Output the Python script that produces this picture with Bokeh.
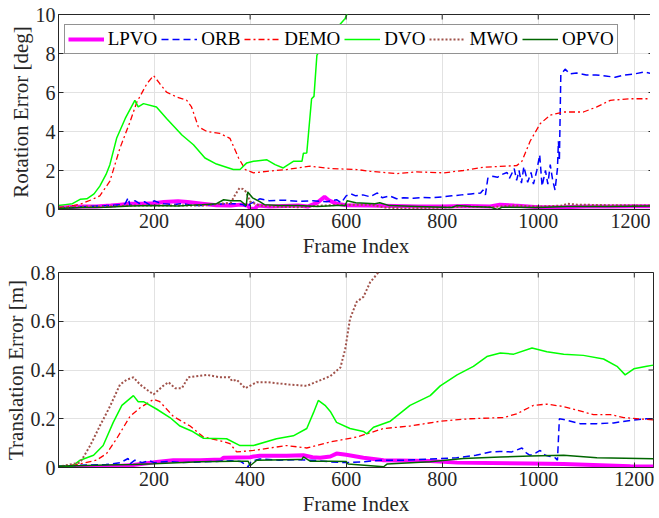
import math
from bokeh.plotting import figure
from bokeh.models import FixedTicker, Range1d, Legend, LegendItem
from bokeh.layouts import column
from bokeh.embed import file_html
from bokeh.resources import INLINE

# ---------------- data: rotation error [deg] ----------------
lpvo_rot_x = [0, 20, 50, 80, 110, 130, 150, 180, 200, 220, 250, 270, 300, 330, 360, 380, 395, 400, 410, 415, 440, 470, 500, 520, 540, 555, 565, 580, 600, 650, 700, 750, 800, 850, 900, 920, 950, 1000, 1050, 1100, 1150, 1200, 1240]
lpvo_rot_y = [0.1, 0.12, 0.15, 0.15, 0.2, 0.25, 0.3, 0.3, 0.32, 0.38, 0.42, 0.38, 0.3, 0.22, 0.2, 0.25, 0.2, 0.05, 0.02, 0.2, 0.15, 0.18, 0.2, 0.15, 0.35, 0.65, 0.45, 0.3, 0.22, 0.2, 0.18, 0.15, 0.15, 0.18, 0.15, 0.25, 0.2, 0.12, 0.12, 0.15, 0.15, 0.17, 0.17]

orb_rot_x = [0, 30, 60, 100, 130, 140, 146, 150, 160, 170, 180, 190, 200, 210, 220, 240, 260, 280, 300, 320, 350, 370, 385, 395, 400, 410, 420, 440, 470, 500, 530, 560, 580, 590, 600, 610, 620, 635, 650, 665, 675, 690, 705, 720, 740, 760, 780, 800, 820, 840, 860, 880, 885, 890, 895, 905, 915, 925, 935, 940, 950, 955, 960, 965, 970, 978, 985, 990, 997, 1003, 1008, 1015, 1020, 1025, 1030, 1035, 1040, 1042, 1044, 1047, 1056, 1066, 1080, 1100, 1120, 1140, 1160, 1180, 1200, 1220, 1240]
orb_rot_y = [0.05, 0.1, 0.15, 0.2, 0.25, 0.3, 0.6, 0.2, 0.45, 0.3, 0.4, 0.25, 0.45, 0.35, 0.3, 0.25, 0.3, 0.2, 0.2, 0.25, 0.3, 0.3, 0.25, 0.1, 0.3, 0.4, 0.55, 0.45, 0.48, 0.42, 0.45, 0.4, 0.5, 0.35, 0.7, 0.8, 0.7, 0.75, 0.65, 0.85, 0.6, 0.7, 0.55, 0.6, 0.58, 0.62, 0.6, 0.65, 0.7, 0.75, 0.8, 0.85, 1.0, 0.75, 1.6, 1.7, 1.65, 1.8, 1.9, 1.6, 2.1, 1.5, 2.0, 1.35, 2.2, 1.4, 1.9, 1.3, 2.0, 2.8, 1.2, 2.0, 1.3, 2.3, 1.5, 1.0, 2.1, 3.5, 2.5, 6.9, 7.2, 6.95, 7.0, 6.9, 6.9, 6.85, 6.78, 6.9, 6.95, 7.05, 6.95]

demo_rot_x = [0, 20, 46, 70, 87, 108, 129, 150, 164, 185, 199, 212, 226, 247, 268, 278, 292, 310, 337, 358, 376, 390, 407, 435, 476, 525, 567, 622, 650, 705, 747, 803, 844, 886, 955, 966, 983, 1004, 1025, 1053, 1094, 1122, 1150, 1192, 1240]
demo_rot_y = [0.1, 0.15, 0.27, 0.5, 0.7, 1.45, 3.15, 4.5, 5.5, 6.45, 6.87, 6.45, 6.02, 5.77, 5.6, 5.26, 4.25, 4.0, 3.9, 3.65, 2.64, 2.05, 1.88, 1.96, 2.05, 2.22, 2.1, 2.05, 1.96, 1.84, 1.93, 1.88, 2.0, 2.17, 2.25, 2.47, 3.5, 4.4, 4.84, 5.0, 5.0, 5.26, 5.6, 5.68, 5.68]

dvo_rot_x = [0, 15, 30, 46, 60, 75, 87, 100, 108, 122, 140, 160, 167, 178, 205, 226, 258, 282, 306, 330, 365, 379, 393, 407, 435, 452, 469, 490, 508, 511, 518, 528, 533, 539, 560, 580, 598, 610]
dvo_rot_y = [0.2, 0.25, 0.3, 0.52, 0.55, 0.8, 1.2, 1.8, 2.3, 3.65, 4.67, 5.6, 5.26, 5.43, 5.26, 4.67, 3.82, 3.32, 2.64, 2.33, 2.05, 2.05, 2.39, 2.47, 2.55, 2.3, 2.13, 2.47, 2.47, 2.89, 2.9, 5.68, 5.8, 7.9, 8.8, 9.3, 9.8, 10.5]

mwo_rot_x = [0, 50, 100, 150, 200, 250, 300, 340, 360, 370, 378, 385, 392, 400, 420, 450, 500, 550, 600, 650, 680, 720, 800, 850, 900, 950, 1000, 1050, 1060, 1080, 1150, 1240]
mwo_rot_y = [0.1, 0.15, 0.15, 0.2, 0.2, 0.2, 0.2, 0.3, 0.35, 0.8, 1.1, 1.05, 0.9, 0.4, 0.2, 0.15, 0.12, 0.2, 0.25, 0.25, 0.1, 0.05, 0.1, 0.15, 0.12, 0.2, 0.15, 0.2, 0.3, 0.25, 0.22, 0.2]

opvo_rot_x = [0, 50, 100, 150, 200, 250, 300, 330, 345, 360, 380, 392, 395, 405, 420, 430, 460, 500, 540, 580, 598, 602, 620, 660, 670, 690, 750, 820, 830, 860, 900, 915, 925, 1000, 1060, 1150, 1240]
opvo_rot_y = [0.05, 0.1, 0.12, 0.18, 0.2, 0.18, 0.25, 0.3, 0.5, 0.45, 0.45, 0.2, 0.9, 0.6, 0.4, 0.25, 0.2, 0.2, 0.15, 0.2, 0.2, 0.45, 0.35, 0.3, 0.35, 0.2, 0.15, 0.1, 0.2, 0.15, 0.12, 0.0, 0.12, 0.1, 0.15, 0.15, 0.18]

# ---------------- data: translation error [m] ----------------
lpvo_tr_x = [0, 50, 100, 157, 205, 240, 296, 340, 345, 400, 407, 420, 476, 511, 530, 546, 567, 580, 600, 636, 678, 775, 831, 983, 1053, 1192, 1240]
lpvo_tr_y = [0.0, 0.0, 0.003, 0.01, 0.023, 0.03, 0.03, 0.033, 0.04, 0.042, 0.045, 0.048, 0.048, 0.05, 0.042, 0.04, 0.045, 0.057, 0.052, 0.04, 0.03, 0.027, 0.02, 0.016, 0.014, 0.005, 0.004]

orb_tr_x = [0, 30, 60, 100, 130, 146, 150, 160, 175, 190, 200, 230, 260, 296, 330, 360, 380, 392, 396, 402, 420, 460, 500, 540, 567, 600, 636, 671, 720, 775, 830, 870, 900, 920, 945, 966, 975, 983, 995, 1004, 1015, 1025, 1035, 1040, 1044, 1053, 1087, 1122, 1157, 1192, 1226, 1240]
orb_tr_y = [0.005, 0.008, 0.01, 0.012, 0.02, 0.037, 0.015, 0.03, 0.02, 0.028, 0.02, 0.025, 0.02, 0.023, 0.025, 0.028, 0.025, 0.01, 0.003, 0.025, 0.035, 0.03, 0.032, 0.028, 0.023, 0.02, 0.023, 0.03, 0.03, 0.035, 0.04, 0.05, 0.064, 0.066, 0.064, 0.08, 0.06, 0.05, 0.06, 0.07, 0.05, 0.045, 0.04, 0.03, 0.2, 0.197, 0.18, 0.18, 0.183, 0.193, 0.2, 0.2]

demo_tr_x = [0, 46, 80, 101, 122, 150, 171, 199, 212, 240, 275, 303, 337, 358, 372, 407, 455, 476, 518, 567, 622, 678, 733, 796, 858, 928, 955, 990, 1018, 1053, 1115, 1150, 1178, 1240]
demo_tr_y = [0.0, 0.015, 0.03, 0.057, 0.118, 0.21, 0.245, 0.28, 0.27, 0.21, 0.17, 0.125, 0.11, 0.098, 0.064, 0.07, 0.084, 0.09, 0.08, 0.105, 0.125, 0.16, 0.17, 0.19, 0.2, 0.205, 0.22, 0.255, 0.26, 0.25, 0.217, 0.217, 0.205, 0.195]

dvo_tr_x = [0, 28, 46, 74, 94, 115, 133, 157, 167, 178, 205, 233, 254, 278, 303, 351, 379, 407, 455, 490, 518, 532, 542, 556, 567, 580, 608, 636, 643, 657, 692, 733, 775, 796, 831, 865, 893, 921, 949, 987, 1018, 1053, 1094, 1136, 1164, 1181, 1199, 1226, 1240]
dvo_tr_y = [0.005, 0.003, 0.03, 0.05, 0.09, 0.185, 0.255, 0.295, 0.27, 0.27, 0.24, 0.205, 0.17, 0.15, 0.12, 0.118, 0.09, 0.09, 0.118, 0.13, 0.16, 0.225, 0.275, 0.255, 0.23, 0.185, 0.16, 0.148, 0.138, 0.165, 0.19, 0.255, 0.295, 0.335, 0.38, 0.415, 0.455, 0.47, 0.465, 0.49, 0.475, 0.465, 0.46, 0.445, 0.415, 0.38, 0.405, 0.415, 0.42]

mwo_tr_x = [0, 46, 67, 87, 108, 129, 143, 157, 171, 188, 199, 219, 230, 244, 258, 271, 310, 337, 358, 362, 372, 390, 414, 435, 483, 518, 567, 588, 598, 608, 622, 636, 650, 667, 690]
mwo_tr_y = [0.003, 0.02, 0.09, 0.17, 0.25, 0.34, 0.36, 0.37, 0.34, 0.315, 0.30, 0.335, 0.35, 0.325, 0.325, 0.37, 0.38, 0.37, 0.37, 0.355, 0.36, 0.325, 0.35, 0.35, 0.34, 0.335, 0.375, 0.41, 0.485, 0.61, 0.68, 0.70, 0.76, 0.80, 0.87]

opvo_tr_x = [0, 100, 157, 199, 296, 365, 396, 400, 414, 500, 508, 511, 525, 567, 600, 604, 678, 685, 775, 844, 921, 983, 1053, 1122, 1240]
opvo_tr_y = [0.005, 0.01, 0.012, 0.015, 0.024, 0.026, 0.026, 0.007, 0.03, 0.033, 0.033, 0.044, 0.026, 0.026, 0.025, 0.014, 0.003, 0.014, 0.024, 0.037, 0.043, 0.047, 0.05, 0.04, 0.036]

x_ticks = [200, 400, 600, 800, 1000, 1200]
rot_ticks = [0, 2, 4, 6, 8, 10]
tr_ticks = [0, 0.2, 0.4, 0.6, 0.8]
tr_tick_labels = {0: "0", 0.2: "0.2", 0.4: "0.4", 0.6: "0.6", 0.8: "0.8"}

names = ["LPVO", "ORB", "DEMO", "DVO", "MWO", "OPVO"]
styles = {
    "LPVO": dict(line_color="#FF00FF", line_width=4),
    "ORB": dict(line_color="#0000FF", line_width=1.5, line_dash="7 4"),
    "DEMO": dict(line_color="#FF0000", line_width=1.3, line_dash="6 3 2 3"),
    "DVO": dict(line_color="#00FF00", line_width=1.5),
    "MWO": dict(line_color="#A0524A", line_width=2, line_dash="2 2"),
    "OPVO": dict(line_color="#006600", line_width=1.5),
}

FONT = "Liberation Serif"
TXT = "#262626"
X_MAX = 1240


def make_fig(ylabel, ymax, yticks, overrides, data, legend, border_top, border_bottom):
    p = figure(frame_width=595, frame_height=195, output_backend="svg", toolbar_location=None,
               x_range=Range1d(1, X_MAX), y_range=Range1d(0, ymax),
               min_border_left=50, min_border_right=2, min_border_top=border_top,
               min_border_bottom=border_bottom)
    p.background_fill_color = "white"
    p.border_fill_color = "white"
    p.outline_line_color = TXT
    p.outline_line_width = 1
    p.xgrid.ticker = FixedTicker(ticks=x_ticks)
    p.ygrid.ticker = FixedTicker(ticks=yticks)
    for g in (p.xgrid, p.ygrid):
        g.grid_line_color = "#e2e2e2"
        g.grid_line_width = 1
    renderers = {}
    for n in names:
        xs, ys = data[n]
        renderers[n] = p.line(xs, ys, **styles[n])
    # mirrored inward ticks on top and right edges (half of each dash is clipped by the frame)
    p.scatter(x=x_ticks, y=[ymax] * len(x_ticks), marker="dash", size=10,
              angle=math.pi / 2, line_color=TXT, line_width=1)
    p.scatter(x=[X_MAX] * len(yticks), y=yticks, marker="dash", size=10,
              line_color=TXT, line_width=1)
    xa = p.xaxis[0]
    ya = p.yaxis[0]
    xa.ticker = FixedTicker(ticks=x_ticks)
    ya.ticker = FixedTicker(ticks=yticks)
    if overrides:
        ya.major_label_overrides = overrides
    xa.axis_label = "Frame Index"
    ya.axis_label = ylabel
    for ax in (xa, ya):
        ax.major_tick_in = 5
        ax.major_tick_out = 0
        ax.minor_tick_line_color = None
        ax.axis_line_color = TXT
        ax.major_tick_line_color = TXT
        ax.major_label_text_font = FONT
        ax.major_label_text_font_size = "20px"
        ax.major_label_text_color = TXT
        ax.axis_label_text_font = FONT
        ax.axis_label_text_font_size = "21px"
        ax.axis_label_text_font_style = "normal"
        ax.axis_label_text_color = TXT
    xa.major_label_standoff = 4
    xa.axis_label_standoff = 3
    ya.major_label_standoff = 3
    ya.axis_label_standoff = 0
    if legend:
        items = [LegendItem(label=n, renderers=[renderers[n]]) for n in names]
        lg = Legend(items=items, orientation="horizontal", location="top_left")
        lg.margin = 10
        lg.padding = 3
        lg.spacing = 4
        lg.glyph_width = 36
        lg.glyph_height = 18
        lg.label_standoff = 4
        lg.label_text_font = FONT
        lg.label_text_font_size = "19px"
        lg.label_text_color = "black"
        lg.border_line_color = TXT
        lg.border_line_width = 1
        lg.background_fill_alpha = 1
        p.add_layout(lg, "center")
    return p


rot_data = {
    "LPVO": (lpvo_rot_x, lpvo_rot_y), "ORB": (orb_rot_x, orb_rot_y),
    "DEMO": (demo_rot_x, demo_rot_y), "DVO": (dvo_rot_x, dvo_rot_y),
    "MWO": (mwo_rot_x, mwo_rot_y), "OPVO": (opvo_rot_x, opvo_rot_y),
}
tr_data = {
    "LPVO": (lpvo_tr_x, lpvo_tr_y), "ORB": (orb_tr_x, orb_tr_y),
    "DEMO": (demo_tr_x, demo_tr_y), "DVO": (dvo_tr_x, dvo_tr_y),
    "MWO": (mwo_tr_x, mwo_tr_y), "OPVO": (opvo_tr_x, opvo_tr_y),
}

p1 = make_fig("Rotation Error [deg]", 10, rot_ticks, None, rot_data, True, 14, 40)
p2 = make_fig("Translation Error [m]", 0.8, tr_ticks, tr_tick_labels, tr_data, False, 12, 40)

layout = column(p1, p2, spacing=0)
open("out.html", "w").write(file_html(layout, INLINE))
